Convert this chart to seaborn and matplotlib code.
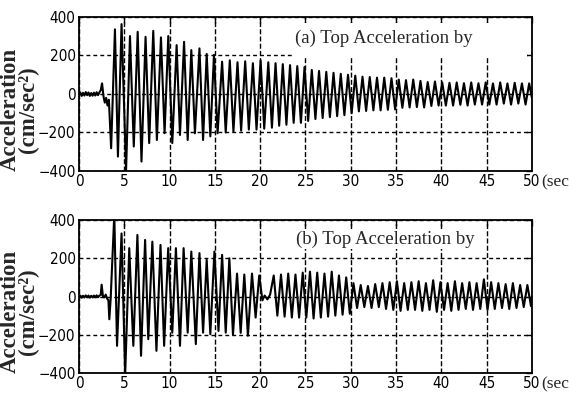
import matplotlib
matplotlib.use('Agg')
import matplotlib.pyplot as plt
from matplotlib.patches import Rectangle
import seaborn as sns

#----------------------------------------
# (a) top acceleration : peaks / troughs (sec, cm/sec^2)
t_a = [0.0, 0.15, 0.3, 0.45, 0.6, 0.75, 0.9, 1.05, 1.2, 1.35, 1.5, 1.65, 1.8, 1.95,
       2.1, 2.25, 2.4, 2.55, 2.7, 2.85, 3.0, 3.15, 3.3,
       3.55, 3.97, 4.3, 4.7, 5.2, 5.63, 6.05, 6.48, 6.9, 7.35, 7.75, 8.2, 8.6, 9.05,
       9.45, 9.86, 10.3, 10.78, 11.15, 11.6, 12.0, 12.4, 12.8, 13.3, 13.7, 14.1, 14.5,
       14.9, 15.3, 15.8, 16.2, 16.65, 17.05, 17.5, 17.9, 18.35, 18.75, 19.2, 19.6,
       20.05, 20.45, 20.9, 21.3, 21.7, 22.1, 22.5, 22.9, 23.3, 23.7, 24.1, 24.5, 24.9,
       25.3, 25.7, 26.1, 26.5, 26.9, 27.3, 27.7, 28.1, 28.5, 28.9, 29.3, 29.7, 30.1,
       30.5, 30.9, 31.3, 31.7, 32.1, 32.5, 32.9, 33.3, 33.7, 34.1, 34.5, 34.9, 35.3,
       35.7, 36.1, 36.5, 36.9, 37.3, 37.7, 38.1, 38.5, 38.9, 39.3, 39.7, 40.1, 40.5,
       40.9, 41.3, 41.7, 42.1, 42.5, 42.9, 43.3, 43.7, 44.1, 44.5, 44.9, 45.3, 45.7,
       46.1, 46.5, 46.9, 47.3, 47.7, 48.1, 48.5, 48.9, 49.3, 49.7, 50.0]
acc_a = [0, 8, -10, 6, -8, 10, -6, 8, -10, 5, -9, 7, -8, 9,
         -6, 8, 20, 55, -10, -45, -20, -60, -30,
         -282, 336, -325, 363, -395, 301, -273, 323, -351, 297, -255, 328, -239, 294,
         -204, 301, -255, 254, -213, 271, -239, 228, -204, 237, -239, 208, -220,
         203, -204, 168, -200, 175, -195, 165, -190, 170, -185, 160, -185,
         175, -180, 165, -175, 160, -165, 155, -160, 150, -150, 145, -150, 140,
         -140, 125, -130, 120, -125, 115, -120, 110, -115, 105, -110, 100, -100,
         95, -90, 90, -88, 88, -85, 85, -85, 85, -82, 82, -80, 75,
         -72, 72, -70, 75, -68, 68, -70, 62, -62, 65, -60, 60, -60,
         58, -60, 60, -56, 56, -60, 60, -55, 56, -55, 60, -55, 55,
         -55, 60, -50, 55, -55, 58, -50, 55, -55, 55, -20]

# (b) top acceleration
t_b = [0.0, 0.15, 0.3, 0.45, 0.6, 0.75, 0.9, 1.05, 1.2, 1.35, 1.5, 1.65, 1.8, 1.95,
       2.1, 2.25, 2.4, 2.5, 2.65, 2.8, 2.95, 3.1, 3.25, 3.35, 3.5,
       3.9, 4.2, 4.7, 5.1, 5.55, 6.0, 6.45, 6.85, 7.3, 7.65, 8.1, 8.55, 9.0, 9.4,
       9.85, 10.3, 10.7, 11.15, 11.55, 12.0, 12.4, 12.9, 13.3, 13.7, 14.1, 14.5,
       14.95, 15.4, 15.8, 16.2, 16.6, 17.0, 17.45, 17.85, 18.25, 18.65, 19.1, 19.5,
       19.9, 20.25, 20.5, 20.8, 21.1,
       21.5, 21.9, 22.3, 22.7, 23.1, 23.5, 23.9, 24.3, 24.7, 25.1, 25.5, 25.9, 26.3,
       26.7, 27.1, 27.5, 27.9, 28.3, 28.7, 29.1, 29.5, 29.9, 30.3, 30.7, 31.1, 31.5,
       31.9, 32.3, 32.7, 33.1, 33.5, 33.9, 34.3, 34.7, 35.1, 35.5, 35.9, 36.3, 36.7,
       37.1, 37.5, 37.9, 38.3, 38.7, 39.1, 39.5, 39.9, 40.3, 40.7, 41.1, 41.5, 41.9,
       42.3, 42.7, 43.1, 43.5, 43.9, 44.3, 44.7, 45.1, 45.5, 45.9, 46.3, 46.7, 47.1,
       47.5, 47.9, 48.3, 48.7, 49.1, 49.5, 49.9, 50.0]
acc_b = [0, 5, -6, 4, -5, 6, -4, 5, -6, 4, -5, 5, -4, 6,
         -4, 5, 8, 62, 0, -5, 10, -10, -20, -119, -10,
         430, -258, 330, -410, 253, -258, 322, -310, 296, -223, 287, -284, 270, -258,
         253, -189, 253, -258, 253, -189, 235, -249, 227, -189, 192, -197,
         235, -180, 218, -189, 200, -200, 120, -190, 115, -205, 120, -110,
         110, -20, 5, -15, 10,
         110, -100, 115, -105, 120, -110, 115, -110, 125, -110, 130, -115, 125,
         -110, 120, -105, 130, -100, 110, -95, 100, -90, 70, -60, 60, -55,
         55, -60, 65, -55, 70, -65, 75, -70, 80, -75, 70, -70, 75,
         -70, 80, -75, 70, -70, 85, -80, 75, -70, 70, -75, 80, -70,
         70, -65, 75, -70, 70, -65, 90, -70, 75, -65, 70, -60, 65,
         -65, 70, -60, 60, -55, 60, -50, 0]

x_ticks = [0, 5, 10, 15, 20, 25, 30, 35, 40, 45, 50]
y_ticks = [-400, -200, 0, 200, 400]
panel_titles = ['(a) Top Acceleration by', '(b) Top Acceleration by']
#----------------------------------------

sns.set_style('white')
plt.rcParams['font.family'] = ['DejaVu Sans']
plt.rcParams['font.stretch'] = 'condensed'

fig = plt.figure(figsize=(5.69, 4.01), dpi=100)
ax_a = fig.add_axes([0.1388, 0.5736, 0.796, 0.384])
ax_b = fig.add_axes([0.1388, 0.0698, 0.796, 0.3815])

for ax, t, acc, title in [(ax_a, t_a, acc_a, panel_titles[0]),
                          (ax_b, t_b, acc_b, panel_titles[1])]:
    sns.lineplot(x=t, y=acc, ax=ax, color='black', lw=1.5, estimator=None, sort=False, zorder=3)
    ax.set_xlim(0, 50)
    ax.set_ylim(-400, 400)
    ax.set_xticks(x_ticks)
    ax.set_yticks(y_ticks)
    ax.xaxis.grid(True, color='black', linestyle=(0, (3.6, 1.6)), linewidth=1.0)
    ax.yaxis.grid(True, color='black', linestyle=(0, (2.8, 2.2)), linewidth=1.0)
    ax.tick_params(direction='in', top=True, right=True, length=4, width=1,
                   labelsize=11, pad=2.5, colors='black')
    for sp in ax.spines.values():
        sp.set_linewidth(1.3)
        sp.set_color('black')
    ax.set_ylabel('Acceleration\n(cm/sec²)', fontfamily='Liberation Serif',
                  fontweight='bold', fontsize=16.5, linespacing=0.85)
    ax.yaxis.set_label_coords(-0.088, 0.40)
    ax.text(51.0, -0.025, '(sec', transform=ax.get_xaxis_transform(), va='top', ha='left',
            fontfamily='Liberation Serif', fontsize=12.5, clip_on=False)

# white patch behind the (a) caption (covers grid, like the original)
ax_a.add_patch(Rectangle((0.475, 0.74), 0.514, 0.22, transform=ax_a.transAxes,
                         facecolor='white', edgecolor='none', zorder=2))
ax_a.text(23.8, 290, panel_titles[0], fontfamily='Liberation Serif', fontsize=13.5,
          va='center', ha='left', zorder=4)
ax_b.text(24.0, 300, panel_titles[1], fontfamily='Liberation Serif', fontsize=13.5,
          va='center', ha='left', zorder=4,
          bbox=dict(facecolor='white', edgecolor='none', pad=1))

fig.savefig('out.png', dpi=100)
